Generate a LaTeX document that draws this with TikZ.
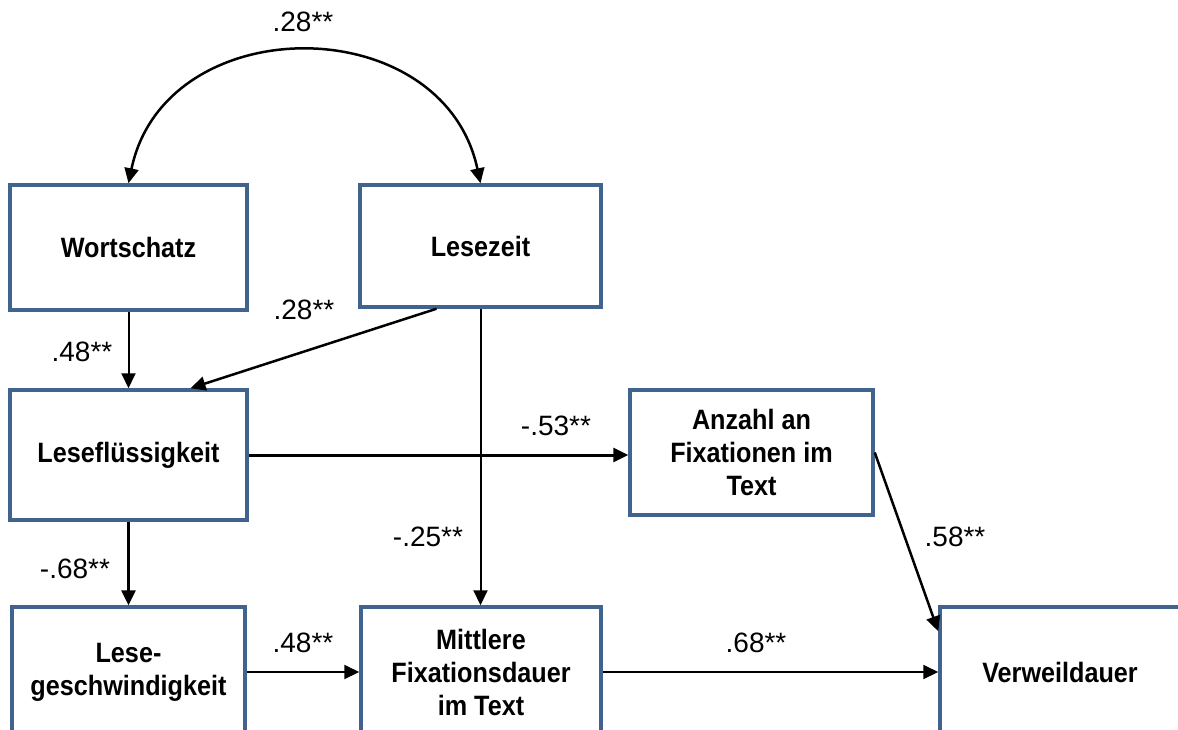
\documentclass[tikz,border=0pt]{standalone}
\usepackage{fontspec}
\newfontfamily\diagfont{Liberation Sans}[FakeStretch=0.9]
\newfontfamily\coeffont{Liberation Sans}
\usetikzlibrary{arrows.meta}
\definecolor{boxblue}{HTML}{41648F}
\begin{document}
\begin{tikzpicture}[x=1pt,y=-1pt,
  box/.style={draw=boxblue, line width=3.5pt, rectangle, inner sep=0pt, align=center,
    font=\diagfont\bfseries\fontsize{28}{33}\selectfont},
  tip/.tip={Triangle[length=15pt,width=14pt]},
  link/.style={line width=2pt, -tip},
  heavylink/.style={link, line width=3pt},
  coef/.style={inner sep=0pt, font=\coeffont\fontsize{28}{33}\selectfont}]
\useasboundingbox (0,0) rectangle (1178,729);
\clip (0,0) rectangle (1178,729);

% variables
\node[box, minimum width=237pt, minimum height=125pt] (wort) at (128.5,247.5) {Wortschatz};
\node[box, minimum width=241pt, minimum height=122pt] (zeit) at (480.5,246) {Lesezeit};
\node[box, minimum width=237pt, minimum height=130pt] (fluss) at (128.5,455) {Leseflüssigkeit};
\node[box, minimum width=243pt, minimum height=125pt] (anz) at (751.5,452.5) {Anzahl an\\Fixationen im\\Text};
\node[box, minimum width=233pt, minimum height=130pt] (ges) at (128.5,672) {Lese-\\geschwindigkeit};
\node[box, minimum width=240pt, minimum height=130pt] (mfd) at (481,672) {Mittlere\\Fixationsdauer\\im Text};
\node[box, minimum width=240pt, minimum height=130pt] (verw) at (1060,672) {Verweildauer};

% correlation between vocabulary and reading time
\draw[line width=2.5pt, tip-tip] (wort.north) .. controls (165,8) and (443,8) .. (zeit.north);
\node[coef] (c1) at (303,22) {.28**};

% paths
\draw[link] (wort.south) -- (fluss.north);
\node[coef] (c2) at (82,352) {.48**};

\draw[link, line width=2.5pt] ([xshift=-44pt]zeit.south) -- ([xshift=62pt]fluss.north);
\node[coef] (c3) at (304,310) {.28**};

\draw[link] (zeit.south) -- (zeit.south |- mfd.north);
\node[coef] (c4) at (428,537) {-.25**};

\draw[heavylink] (fluss.east) -- (fluss.east -| anz.west);
\node[coef] (c5) at (556,426) {-.53**};

\draw[heavylink] (fluss.south) -- (ges.north);
\node[coef] (c6) at (75,569) {-.68**};

\draw[link] (ges.east) -- (mfd.west);
\node[coef] (c7) at (303,643) {.48**};

\draw[link] (mfd.east) -- (verw.west);
\node[coef] (c8) at (756,643) {.68**};

\draw[link, line width=2.5pt] (anz.east) -- ([yshift=-26pt]verw.north west);
\node[coef] (c9) at (955,537) {.58**};
\end{tikzpicture}
\end{document}
